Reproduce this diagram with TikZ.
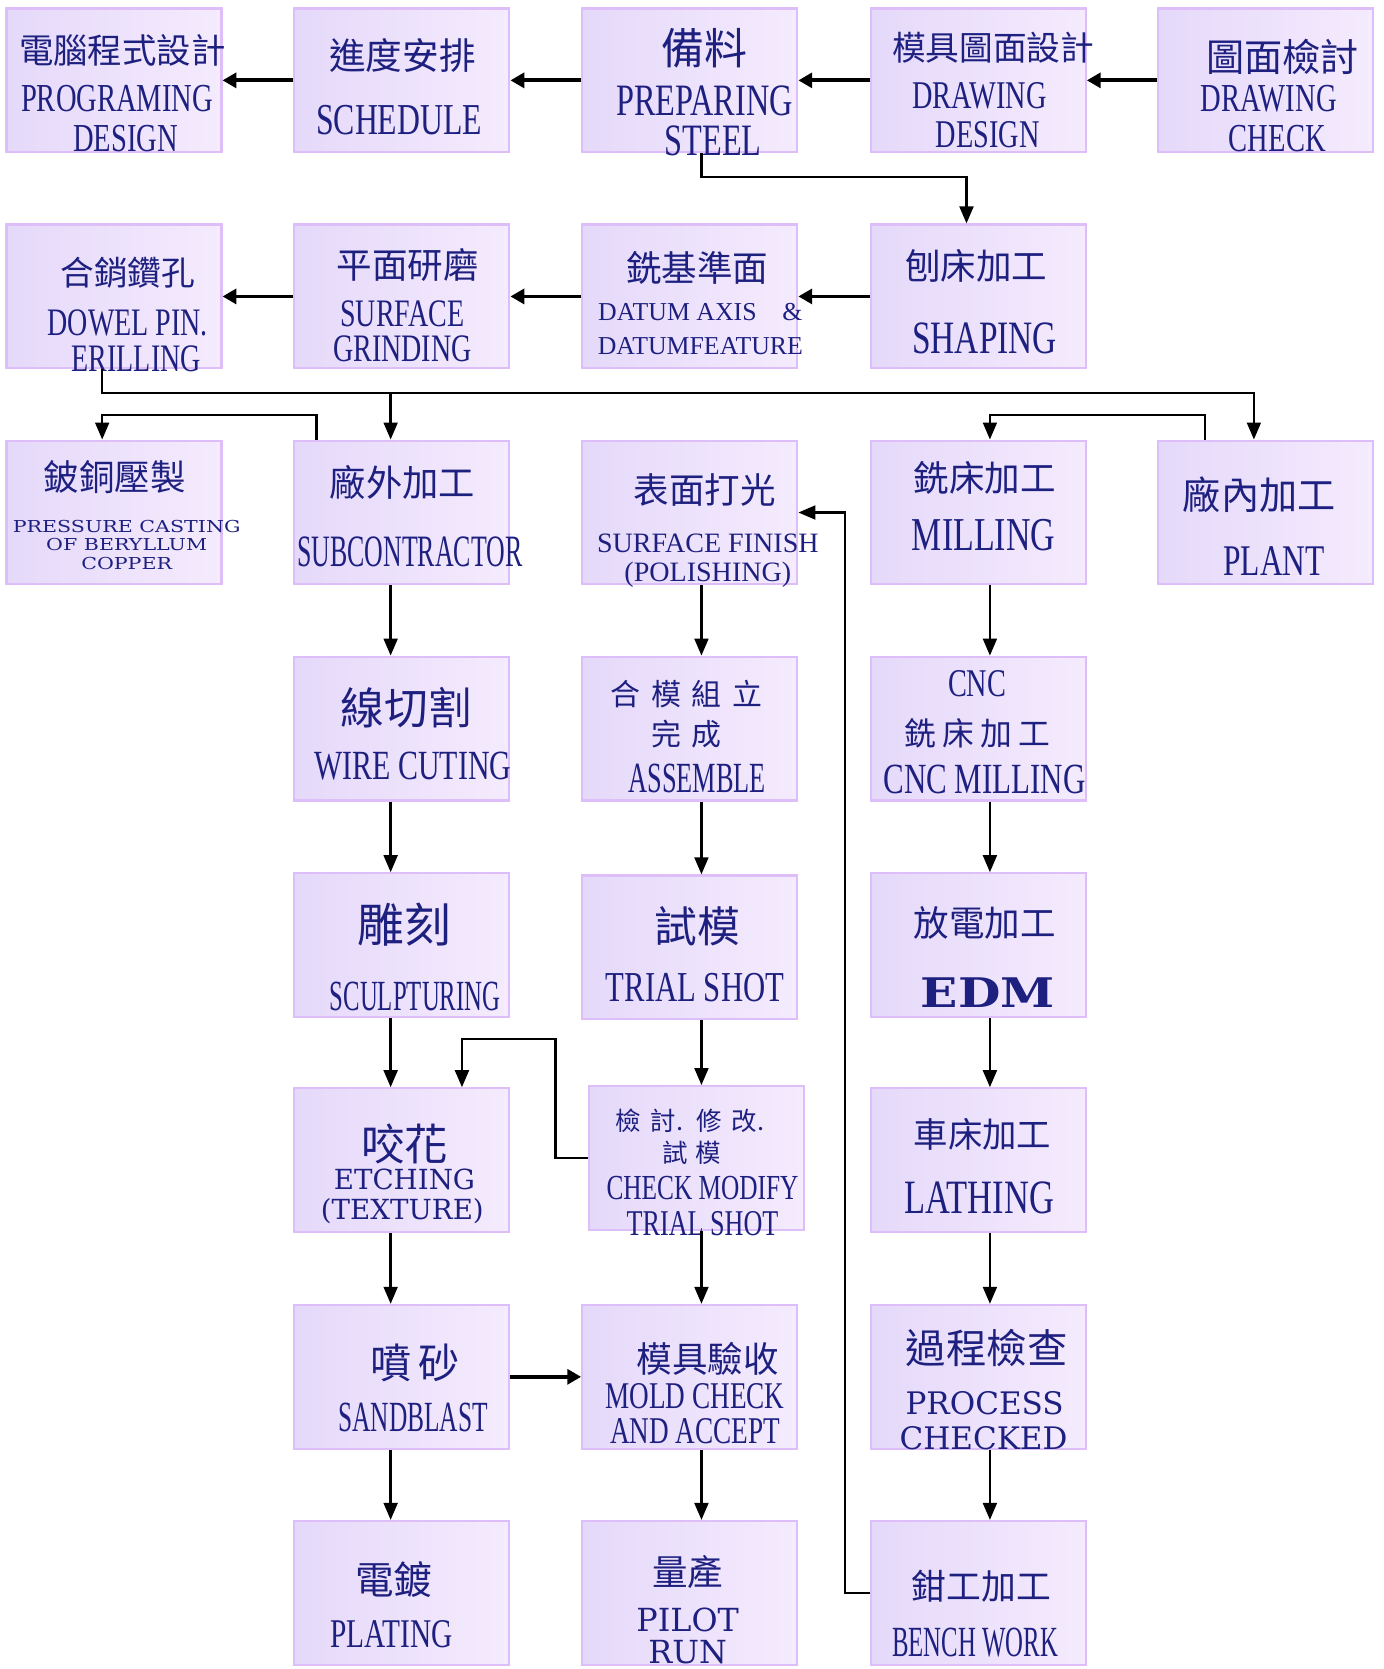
\documentclass[tikz,border=0pt]{standalone}
\usepackage{fontspec}
\setmainfont{Liberation Serif}
\newfontfamily\cnd[FakeStretch=0.72]{Liberation Serif}
\newfontfamily\wde{DejaVu Serif}
\newfontfamily\zhf{Noto Sans CJK TC}
\usetikzlibrary{arrows.meta}
\definecolor{ink}{RGB}{30,32,128}
\definecolor{boxl}{RGB}{229,217,250}
\definecolor{boxr}{RGB}{245,235,253}
\definecolor{boxline}{RGB}{222,190,248}
\tikzset{
  box/.style={draw=boxline, line width=0.6pt, left color=boxl, right color=boxr,
    minimum width=2.02cm, minimum height=1.35cm, inner sep=0pt},
  zh/.style={text=ink, inner sep=0pt, font=\zhf\fontsize{#1}{#1}\selectfont},
  zh/.default=9.5,
  en/.style={text=ink, inner sep=0pt, font=\cnd\fontsize{#1}{#1}\selectfont},
  en/.default=10.5,
  rm/.style={text=ink, inner sep=0pt, font=\rmfamily\fontsize{#1}{#1}\selectfont},
  wd/.style={text=ink, inner sep=0pt, font=\wde\fontsize{#1}{#1}\selectfont},
  flow/.style={-{Triangle[length=1.6mm,width=1.3mm]}, line width=0.65pt},
  flowh/.style={-{Triangle[length=1.3mm,width=1.4mm]}, line width=1pt}
}
\begin{document}
\begin{tikzpicture}
\useasboundingbox (0,0) rectangle (13,-15.68);
\node[box] (prog) at (1.07,-0.755) {};
\node[box] (sched) at (3.775,-0.755) {};
\node[box] (prep) at (6.48,-0.755) {};
\node[box] (dwgdes) at (9.19,-0.755) {};
\node[box] (dwgchk) at (11.89,-0.755) {};
\node[box] (dowel) at (1.07,-2.785) {};
\node[box] (grind) at (3.775,-2.785) {};
\node[box] (datum) at (6.48,-2.785) {};
\node[box] (shaping) at (9.19,-2.785) {};
\node[box] (beryl) at (1.07,-4.815) {};
\node[box] (subcon) at (3.775,-4.815) {};
\node[box] (polish) at (6.48,-4.815) {};
\node[box] (milling) at (9.19,-4.815) {};
\node[box] (plant) at (11.89,-4.815) {};
\node[box] (wire) at (3.775,-6.845) {};
\node[box] (assem) at (6.48,-6.845) {};
\node[box] (cnc) at (9.19,-6.845) {};
\node[box] (sculpt) at (3.775,-8.88) {};
\node[box] (trial) at (6.48,-8.90) {};
\node[box] (edm) at (9.19,-8.88) {};
\node[box] (etch) at (3.775,-10.90) {};
\node[box] (check) at (6.54,-10.88) {};
\node[box] (lathe) at (9.19,-10.90) {};
\node[box] (sand) at (3.775,-12.935) {};
\node[box] (moldchk) at (6.48,-12.935) {};
\node[box] (process) at (9.19,-12.935) {};
\node[box] (plate) at (3.775,-14.965) {};
\node[box] (pilot) at (6.48,-14.965) {};
\node[box] (bench) at (9.19,-14.965) {};
\node[zh=9.2] (prog-zh) at (1.15,-0.47) {電腦程式設計};
\node[en=10.6] (prog-en1) at (1.10,-0.93) {PROGRAMING};
\node[en=10.6] (prog-en2) at (1.18,-1.30) {DESIGN};
\node[zh=9.8] (sched-zh) at (3.78,-0.52) {進度安排};
\node[en=11.8] (sched-en) at (3.75,-1.13) {SCHEDULE};
\node[zh=11.5] (prep-zh) at (6.62,-0.45) {備料};
\node[en=12] (prep-en1) at (6.62,-0.95) {PREPARING};
\node[en=12] (prep-en2) at (6.70,-1.32) {STEEL};
\node[zh=9] (dwgdes-zh) at (9.33,-0.45) {模具圖面設計};
\node[en=10.5] (dwgdes-en1) at (9.20,-0.90) {DRAWING};
\node[en=10.5] (dwgdes-en2) at (9.28,-1.27) {DESIGN};
\node[zh=10.2] (dwgchk-zh) at (12.05,-0.53) {圖面檢討};
\node[en=10.6] (dwgchk-en1) at (11.92,-0.93) {DRAWING};
\node[en=10.6] (dwgchk-en2) at (12.00,-1.30) {CHECK};
\node[zh=9] (dowel-zh) at (1.20,-2.56) {合銷鑽孔};
\node[en=10.4] (dowel-en1) at (1.20,-3.03) {DOWEL PIN.};
\node[en=10.4] (dowel-en2) at (1.28,-3.37) {ERILLING};
\node[zh] (grind-zh) at (3.83,-2.49) {平面研磨};
\node[en=10.4] (grind-en1) at (3.78,-2.95) {SURFACE};
\node[en=10.4] (grind-en2) at (3.78,-3.28) {GRINDING};
\node[zh] (datum-zh) at (6.55,-2.52) {銑基準面};
\node[rm=6.9] (datum-en1) at (6.58,-2.93) {DATUM AXIS\quad\&};
\node[rm=6.9] (datum-en2) at (6.58,-3.25) {DATUMFEATURE};
\node[zh] (shaping-zh) at (9.17,-2.50) {刨床加工};
\node[en=12.4] (shaping-en) at (9.25,-3.18) {SHAPING};
\node[zh] (beryl-zh) at (1.08,-4.48) {鈹銅壓製};
\node[wd=4.4] (beryl-en1) at (1.19,-4.95) {\scalebox{1.25}[1]{PRESSURE CASTING}};
\node[wd=4.4] (beryl-en2) at (1.19,-5.12) {\scalebox{1.25}[1]{OF BERYLLUM}};
\node[wd=4.4] (beryl-en3) at (1.19,-5.29) {\scalebox{1.25}[1]{COPPER}};
\node[zh=9.7] (subcon-zh) at (3.78,-4.53) {廠外加工};
\node[en=12] (subcon-en) at (3.85,-5.18) {\scalebox{0.8}[1]{SUBCONTRACTOR}};
\node[zh] (polish-zh) at (6.62,-4.60) {表面打光};
\node[rm=7.5] (polish-en1) at (6.65,-5.10) {SURFACE FINISH};
\node[rm=7.5] (polish-en2) at (6.65,-5.40) {(POLISHING)};
\node[zh] (milling-zh) at (9.25,-4.49) {銑床加工};
\node[en=12.6] (milling-en) at (9.24,-5.03) {MILLING};
\node[zh=10.2] (plant-zh) at (11.83,-4.65) {廠內加工};
\node[en=11.7] (plant-en) at (11.97,-5.27) {PLANT};
\node[zh=11.7] (wire-zh) at (3.82,-6.65) {線切割};
\node[en=11.1] (wire-en) at (3.88,-7.20) {WIRE CUTING};
\node[zh=8] (assem-zh1) at (6.45,-6.52) {合\hspace{0.35em}模\hspace{0.35em}組\hspace{0.35em}立};
\node[zh=8] (assem-zh2) at (6.45,-6.90) {完\hspace{0.35em}成};
\node[en=11.5] (assem-en) at (6.55,-7.31) {\scalebox{0.85}[1]{ASSEMBLE}};
\node[en=10.5] (cnc-en1) at (9.18,-6.42) {CNC};
\node[zh=8.5] (cnc-zh) at (9.18,-6.89) {銑\hspace{0.2em}床\hspace{0.2em}加\hspace{0.2em}工};
\node[en=11.5] (cnc-en2) at (9.25,-7.32) {CNC MILLING};
\node[zh=12.5] (sculpt-zh) at (3.80,-8.69) {雕刻};
\node[en=11.5] (sculpt-en) at (3.90,-9.36) {\scalebox{0.8}[1]{SCULPTURING}};
\node[zh=11.4] (trial-zh) at (6.55,-8.70) {試模};
\node[en=11.4] (trial-en) at (6.53,-9.28) {TRIAL SHOT};
\node[zh] (edm-zh) at (9.25,-8.67) {放電加工};
\node[wd=10.9, font=\wde\bfseries\fontsize{10.9}{10.9}\selectfont] (edm-en) at (9.28,-9.33) {\scalebox{1.2}[1]{EDM}};
\node[zh=11.6] (etch-zh) at (3.80,-10.75) {咬花};
\node[wd=7.4] (etch-en1) at (3.80,-11.08) {ETCHING};
\node[wd=7.4] (etch-en2) at (3.78,-11.38) {(TEXTURE)};
\node[zh=6.8] (check-zh1) at (6.48,-10.53) {檢\hspace{0.4em}討.\hspace{0.5em}修\hspace{0.4em}改.};
\node[zh=6.8] (check-zh2) at (6.50,-10.83) {試\hspace{0.3em}模};
\node[en=9.4] (check-en1) at (6.60,-11.16) {CHECK MODIFY};
\node[en=9.7] (check-en2) at (6.60,-11.50) {TRIAL SHOT};
\node[zh=9.2] (lathe-zh) at (9.23,-10.66) {車床加工};
\node[en=12.8] (lathe-en) at (9.20,-11.25) {LATHING};
\node[zh=11] (sand-zh) at (3.90,-12.80) {噴\hspace{0.15em}砂};
\node[en=11.5] (sand-en) at (3.88,-13.32) {\scalebox{0.82}[1]{SANDBLAST}};
\node[zh] (moldchk-zh) at (6.65,-12.77) {模具驗收};
\node[en=10.1] (moldchk-en1) at (6.53,-13.12) {MOLD CHECK};
\node[en=10.1] (moldchk-en2) at (6.53,-13.45) {AND ACCEPT};
\node[zh=10.8] (process-zh) at (9.27,-12.66) {過程檢查};
\node[wd=8.3] (process-en1) at (9.25,-13.18) {PROCESS};
\node[wd=8.3] (process-en2) at (9.24,-13.51) {CHECKED};
\node[zh=10.3] (plate-zh) at (3.70,-14.84) {電鍍};
\node[en=10.9] (plate-en) at (3.68,-15.35) {PLATING};
\node[zh] (pilot-zh) at (6.46,-14.77) {量產};
\node[wd=8.5] (pilot-en1) at (6.46,-15.22) {PILOT};
\node[wd=8.5] (pilot-en2) at (6.46,-15.52) {RUN};
\node[zh=9.3] (bench-zh) at (9.22,-14.90) {鉗工加工};
\node[en=11.5] (bench-en) at (9.16,-15.43) {\scalebox{0.8}[1]{BENCH WORK}};
\coordinate (c2) at (3.67,0);
\coordinate (c3) at (6.59,0);
\coordinate (c4) at (9.30,0);
\draw[flowh] (sched.west) -- (prog.east);
\draw[flowh] (prep.west) -- (sched.east);
\draw[flowh] (dwgdes.west) -- (prep.east);
\draw[flowh] (dwgchk.west) -- (dwgdes.east);
\draw[flow] ([xshift=1.1mm]prep.south) -- ++(0,-0.22) -| ([xshift=-1.1mm]shaping.north);
\draw[flowh] (shaping.west) -- (datum.east);
\draw[flowh] (datum.west) -- (grind.east);
\draw[flowh] (grind.west) -- (dowel.east);
\coordinate (bus) at ([xshift=-1.1mm,yshift=-2.2mm]dowel.south);
\draw[flow] ([xshift=-1.1mm]dowel.south) -- (bus) -| ([xshift=-1.1mm]plant.north);
\draw[flow] (bus -| c2) -- (subcon.north -| c2);
\draw[flow] ([xshift=2.2mm]subcon.north west) -- ++(0,0.23) -| ([xshift=-1.1mm]beryl.north);
\draw[flow] ([xshift=4.5mm]plant.north west) -- ++(0,0.23) -| (milling.north -| c4);
\foreach \a/\b in {subcon/wire, wire/sculpt, sculpt/etch, etch/sand, sand/plate}
  \draw[flow] (\a.south -| c2) -- (\b.north -| c2);
\foreach \a/\b in {polish/assem, assem/trial, trial/check, check/moldchk, moldchk/pilot}
  \draw[flow] (\a.south -| c3) -- (\b.north -| c3);
\foreach \a/\b in {milling/cnc, cnc/edm, edm/lathe, lathe/process, process/bench}
  \draw[flow] (\a.south -| c4) -- (\b.north -| c4);
\draw[flow] (check.west) -- ++(-0.3,0) -- ++(0,1.12) -| ([xshift=5.65mm]etch.north);
\draw[flowh] (sand.east) -- (moldchk.west);
\draw[flow] (bench.west) -- ++(-0.23,0) |- (polish.east);
\end{tikzpicture}
\end{document}
